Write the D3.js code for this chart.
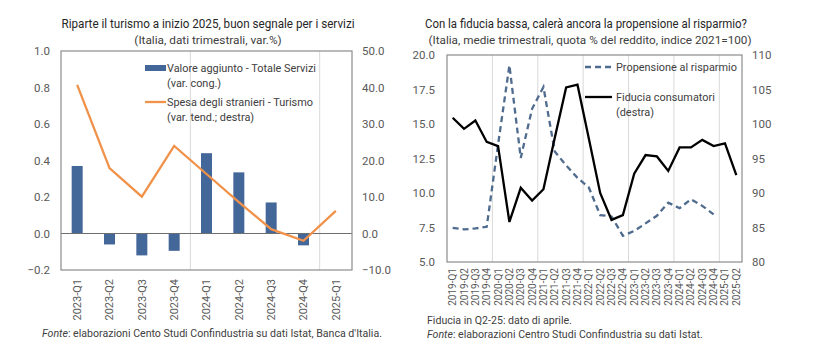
<!DOCTYPE html>
<html>
<head>
<meta charset="utf-8">
<script src="https://cdn.jsdelivr.net/npm/d3@7"></script>
<style>
  body { margin: 0; background: #fff; }
  text { font-family: Roboto, "Noto Sans", sans-serif; }
</style>
</head>
<body>
<div id="chart"></div>
<script>
// --- left chart data ---
const quartersA = ["2023-Q1", "2023-Q2", "2023-Q3", "2023-Q4", "2024-Q1", "2024-Q2", "2024-Q3", "2024-Q4", "2025-Q1"];
const valoreAggiunto = [0.37, -0.06, -0.12, -0.095, 0.44, 0.335, 0.17, -0.065, null];
const spesaStranieri = [40.7, 17.9, 10.1, 24.0, 16.3, 8.6, 1.2, -2.0, 6.2];
const ticksA_left = [-0.2, 0, 0.2, 0.4, 0.6, 0.8, 1.0];
const ticksA_right = [-10, 0, 10, 20, 30, 40, 50];

// --- right chart data ---
const quartersB = ["2019-Q1", "2019-Q2", "2019-Q3", "2019-Q4", "2020-Q1", "2020-Q2", "2020-Q3", "2020-Q4",
  "2021-Q1", "2021-Q2", "2021-Q3", "2021-Q4", "2022-Q1", "2022-Q2", "2022-Q3", "2022-Q4",
  "2023-Q1", "2023-Q2", "2023-Q3", "2023-Q4", "2024-Q1", "2024-Q2", "2024-Q3", "2024-Q4",
  "2025-Q1", "2025-Q2"];
const propensione = [7.48, 7.36, 7.43, 7.55, 13.5, 19.25, 12.54, 16.1, 17.68, 13.0, 12.0, 11.1, 10.4, 8.4, 8.3, 6.9,
  7.25, 7.8, 8.35, 9.3, 8.9, 9.55, 9.07, 8.45, null, null];
const fiducia = [100.9, 99.3, 100.5, 97.4, 96.8, 85.8, 90.75, 88.9, 90.55, 98.0, 105.3, 105.7, 97.9, 90.0, 86.1, 86.8,
  92.8, 95.5, 95.3, 93.2, 96.6, 96.6, 97.7, 96.8, 97.2, 92.6];
const ticksB_left = [5, 7.5, 10, 12.5, 15, 17.5, 20];
const ticksB_right = [80, 85, 90, 95, 100, 105, 110];

const W = 825, H = 363;
const svg = d3.select("#chart").append("svg")
  .attr("width", W).attr("height", H);

const gridColor = "#d9d9d9", frameColor = "#8c8c8c", tickColor = "#595959";

// ================= LEFT CHART =================
const A = { left: 61, right: 352, top: 51, bottom: 270 };
const xA = d3.scaleBand().domain(quartersA).range([A.left, A.right]);
const yA = d3.scaleLinear().domain([-0.2, 1.0]).range([A.bottom, A.top]);
const yA2 = d3.scaleLinear().domain([-10, 50]).range([A.bottom, A.top]);

const gA = svg.append("g");

// vertical year separators
gA.selectAll("line.grid").data(["2024-Q1", "2025-Q1"]).join("line")
  .attr("x1", d => xA(d)).attr("x2", d => xA(d))
  .attr("y1", A.top).attr("y2", A.bottom)
  .attr("stroke", gridColor).attr("stroke-width", 1);

// bars
gA.selectAll("rect.bar").data(quartersA.map((q, i) => ({ q, v: valoreAggiunto[i] })).filter(d => d.v != null))
  .join("rect")
  .attr("x", d => xA(d.q) + xA.bandwidth() * 0.33)
  .attr("width", xA.bandwidth() * 0.34)
  .attr("y", d => yA(Math.max(0, d.v)))
  .attr("height", d => Math.abs(yA(d.v) - yA(0)))
  .attr("fill", "#44679a");

// zero line
gA.append("line")
  .attr("x1", A.left).attr("x2", A.right)
  .attr("y1", yA(0)).attr("y2", yA(0))
  .attr("stroke", "#6e6e6e").attr("stroke-width", 1.2);

// frame
gA.append("rect")
  .attr("x", A.left).attr("y", A.top)
  .attr("width", A.right - A.left).attr("height", A.bottom - A.top)
  .attr("fill", "none").attr("stroke", frameColor).attr("stroke-width", 1.2);

// orange line
gA.append("path")
  .datum(spesaStranieri)
  .attr("fill", "none")
  .attr("stroke", "#f0924a")
  .attr("stroke-width", 2.3)
  .attr("d", d3.line()
    .x((d, i) => xA(quartersA[i]) + xA.bandwidth() / 2)
    .y(d => yA2(d)));

// axes
gA.append("g")
  .attr("transform", `translate(${A.left},0)`)
  .call(d3.axisLeft(yA).tickValues(ticksA_left).tickFormat(d3.format(".1f")).tickSize(0).tickPadding(11))
  .call(g => g.select(".domain").remove())
  .call(g => g.selectAll("text").attr("fill", tickColor).style("font-size", "11.5px"));

gA.append("g")
  .attr("transform", `translate(${A.right},0)`)
  .call(d3.axisRight(yA2).tickValues(ticksA_right).tickFormat(d3.format(".1f")).tickSize(0).tickPadding(10))
  .call(g => g.select(".domain").remove())
  .call(g => g.selectAll("text").attr("fill", tickColor).style("font-size", "11.5px"));

gA.append("g")
  .attr("transform", `translate(0,${A.bottom})`)
  .call(d3.axisBottom(xA).tickSize(0).tickPadding(0))
  .call(g => g.select(".domain").remove())
  .call(g => g.selectAll("text")
    .attr("fill", tickColor).style("font-size", "11px")
    .attr("transform", "rotate(-90)")
    .attr("text-anchor", "end").attr("dy", "0.35em")
    .attr("x", -9).attr("y", 0));

// titles
gA.append("text").attr("x", 208).attr("y", 28).attr("text-anchor", "middle")
  .attr("fill", "#262626").style("font-size", "12.5px")
  .attr("textLength", 293).attr("lengthAdjust", "spacingAndGlyphs")
  .text("Riparte il turismo a inizio 2025, buon segnale per i servizi");
gA.append("text").attr("x", 208).attr("y", 44).attr("text-anchor", "middle")
  .attr("fill", "#404040").style("font-size", "11.8px")
  .text("(Italia, dati trimestrali, var.%)");

// legend
gA.append("rect").attr("x", 145).attr("y", 65).attr("width", 21).attr("height", 6).attr("fill", "#44679a");
gA.append("line").attr("x1", 145).attr("x2", 166).attr("y1", 102).attr("y2", 102)
  .attr("stroke", "#f0924a").attr("stroke-width", 2.3);
const legA = [["Valore aggiunto - Totale Servizi", 68], ["(var. cong.)", 83],
              ["Spesa degli stranieri - Turismo", 102], ["(var. tend.; destra)", 117]];
gA.selectAll("text.leg").data(legA).join("text")
  .attr("x", 167).attr("y", d => d[1]).attr("dy", "0.35em")
  .attr("fill", "#404040").style("font-size", "10.9px")
  .text(d => d[0]);

// source
const srcA = gA.append("text").attr("x", 42).attr("y", 337).attr("fill", "#404040").style("font-size", "10.6px");
srcA.append("tspan").style("font-style", "italic").text("Fonte");
srcA.append("tspan").text(": elaborazioni Cento Studi Confindustria su dati Istat, Banca d'Italia.");

// ================= RIGHT CHART =================
const B = { left: 447, right: 742, top: 55, bottom: 262 };
const xB = d3.scaleBand().domain(quartersB).range([B.left, B.right]);
const yB = d3.scaleLinear().domain([5, 20]).range([B.bottom, B.top]);
const yB2 = d3.scaleLinear().domain([80, 110]).range([B.bottom, B.top]);

const gB = svg.append("g");

gB.selectAll("line.grid").data(["2020-Q1", "2021-Q1", "2022-Q1", "2023-Q1", "2024-Q1", "2025-Q1"]).join("line")
  .attr("x1", d => xB(d)).attr("x2", d => xB(d))
  .attr("y1", B.top).attr("y2", B.bottom)
  .attr("stroke", gridColor).attr("stroke-width", 1);

gB.append("rect")
  .attr("x", B.left).attr("y", B.top)
  .attr("width", B.right - B.left).attr("height", B.bottom - B.top)
  .attr("fill", "none").attr("stroke", frameColor).attr("stroke-width", 1.2);

const cx = (d, i) => xB(quartersB[i]) + xB.bandwidth() / 2;

gB.append("path")
  .datum(propensione)
  .attr("fill", "none")
  .attr("stroke", "#4f6b8e")
  .attr("stroke-width", 2.3)
  .attr("stroke-dasharray", "6,4")
  .attr("d", d3.line().defined(d => d != null).x(cx).y(d => yB(d)));

gB.append("path")
  .datum(fiducia)
  .attr("fill", "none")
  .attr("stroke", "#000")
  .attr("stroke-width", 2.3)
  .attr("d", d3.line().x(cx).y(d => yB2(d)));

gB.append("g")
  .attr("transform", `translate(${B.left},0)`)
  .call(d3.axisLeft(yB).tickValues(ticksB_left).tickFormat(d3.format(".1f")).tickSize(0).tickPadding(12))
  .call(g => g.select(".domain").remove())
  .call(g => g.selectAll("text").attr("fill", tickColor).style("font-size", "11.5px"));

gB.append("g")
  .attr("transform", `translate(${B.right},0)`)
  .call(d3.axisRight(yB2).tickValues(ticksB_right).tickSize(0).tickPadding(10))
  .call(g => g.select(".domain").remove())
  .call(g => g.selectAll("text").attr("fill", tickColor).style("font-size", "11.5px"));

gB.append("g")
  .attr("transform", `translate(0,${B.bottom})`)
  .call(d3.axisBottom(xB).tickSize(0).tickPadding(0))
  .call(g => g.select(".domain").remove())
  .call(g => g.selectAll("text")
    .attr("fill", tickColor).style("font-size", "10px")
    .attr("transform", "rotate(-90)")
    .attr("text-anchor", "end").attr("dy", "0.35em")
    .attr("x", -6).attr("y", 0));

gB.append("text").attr("x", 586).attr("y", 28).attr("text-anchor", "middle")
  .attr("fill", "#262626").style("font-size", "12.5px")
  .attr("textLength", 322).attr("lengthAdjust", "spacingAndGlyphs")
  .text("Con la fiducia bassa, calerà ancora la propensione al risparmio?");
gB.append("text").attr("x", 590).attr("y", 44).attr("text-anchor", "middle")
  .attr("fill", "#404040").style("font-size", "11.8px")
  .attr("textLength", 323).attr("lengthAdjust", "spacingAndGlyphs")
  .text("(Italia, medie trimestrali, quota % del reddito, indice 2021=100)");

gB.append("line").attr("x1", 585).attr("x2", 612).attr("y1", 67).attr("y2", 67)
  .attr("stroke", "#4f6b8e").attr("stroke-width", 2.3).attr("stroke-dasharray", "6,4");
gB.append("line").attr("x1", 585).attr("x2", 612).attr("y1", 97).attr("y2", 97)
  .attr("stroke", "#000").attr("stroke-width", 2.3);
const legB = [["Propensione al risparmio", 67], ["Fiducia consumatori", 97], ["(destra)", 112]];
gB.selectAll("text.leg").data(legB).join("text")
  .attr("x", 616).attr("y", d => d[1]).attr("dy", "0.35em")
  .attr("fill", "#404040").style("font-size", "10.9px")
  .text(d => d[0]);

gB.append("text").attr("x", 427).attr("y", 324).attr("fill", "#404040").style("font-size", "10.6px")
  .text("Fiducia in Q2-25: dato di aprile.");
const srcB = gB.append("text").attr("x", 427).attr("y", 338).attr("fill", "#404040").style("font-size", "10.6px");
srcB.append("tspan").style("font-style", "italic").text("Fonte");
srcB.append("tspan").text(": elaborazioni Centro Studi Confindustria su dati Istat.");
</script>
</body>
</html>
